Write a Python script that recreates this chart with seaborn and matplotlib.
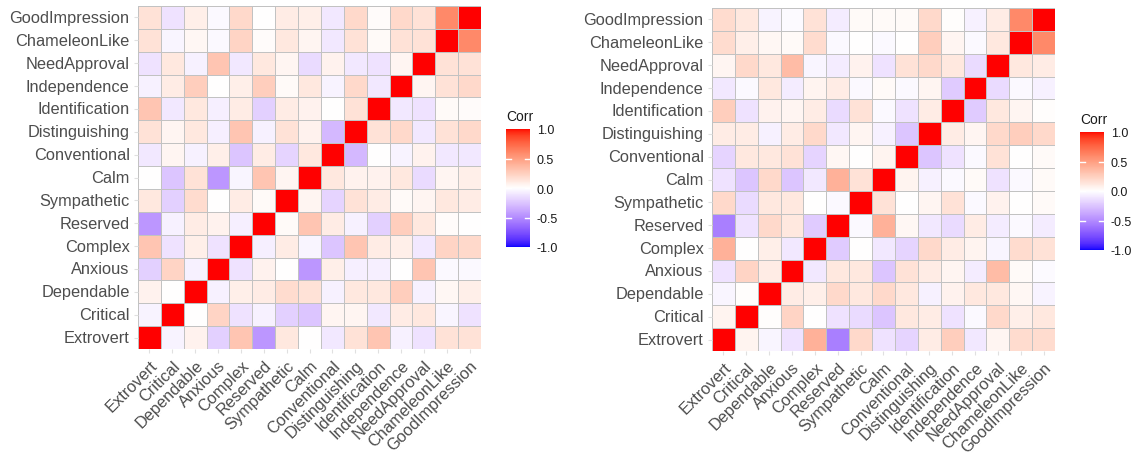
import numpy as np
import pandas as pd
import matplotlib
matplotlib.use("Agg")
import matplotlib.pyplot as plt
import seaborn as sns
from matplotlib.colors import ListedColormap

variables = ["Extrovert", "Critical", "Dependable", "Anxious", "Complex", "Reserved",
             "Sympathetic", "Calm", "Conventional", "Distinguishing", "Identification",
             "Independence", "NeedApproval", "ChameleonLike", "GoodImpression"]

# lower triangles (row i: correlations with variables 0..i-1)
left_lower = [
    [],
    [-0.05],
    [0.07, 0.0],
    [-0.2, 0.22, -0.06],
    [0.3, -0.12, 0.08, -0.12],
    [-0.45, -0.06, 0.1, 0.07, -0.07],
    [0.12, -0.2, 0.18, 0.0, 0.1, 0.03],
    [0.0, -0.25, 0.15, -0.45, -0.04, 0.3, 0.05],
    [-0.1, 0.05, -0.06, 0.08, -0.25, 0.1, -0.18, 0.12],
    [0.15, 0.05, 0.12, -0.07, 0.3, -0.06, 0.15, 0.07, -0.3],
    [0.3, -0.1, 0.12, -0.07, 0.1, -0.2, 0.1, 0.07, 0.0, 0.15],
    [-0.06, 0.1, 0.25, 0.0, 0.08, 0.25, 0.03, 0.12, -0.05, 0.2, -0.1],
    [-0.12, 0.12, -0.06, 0.3, -0.1, 0.12, 0.05, -0.15, 0.07, -0.1, -0.12, 0.05],
    [0.15, -0.04, 0.04, -0.03, 0.22, 0.02, 0.12, 0.05, -0.1, 0.15, 0.03, 0.15, 0.15],
    [0.15, -0.12, 0.08, -0.03, 0.2, 0.0, 0.1, 0.08, -0.1, 0.2, 0.02, 0.2, 0.15, 0.6],
]

right_lower = [
    [],
    [0.06],
    [-0.04, 0.01],
    [-0.12, 0.22, 0.1],
    [0.4, 0.0, 0.08, -0.1],
    [-0.55, -0.12, 0.2, 0.12, -0.22],
    [0.2, -0.15, 0.12, 0.12, 0.0, -0.03],
    [-0.12, -0.25, 0.2, -0.25, -0.1, 0.4, 0.15],
    [-0.18, 0.12, 0.12, 0.15, -0.18, 0.04, 0.0, 0.06],
    [0.1, 0.1, -0.06, 0.1, 0.2, -0.1, 0.05, -0.06, -0.25],
    [0.25, -0.12, 0.07, 0.05, 0.1, -0.15, 0.15, -0.03, -0.12, 0.1],
    [-0.1, -0.03, 0.12, -0.08, 0.06, 0.1, -0.03, 0.03, -0.03, 0.05, -0.22],
    [0.05, 0.2, 0.12, 0.35, -0.04, -0.08, 0.07, -0.12, 0.15, 0.2, 0.12, -0.15],
    [0.18, 0.08, 0.04, 0.03, 0.18, -0.03, 0.0, -0.03, 0.0, 0.25, 0.05, -0.03, 0.12],
    [0.18, 0.12, -0.05, -0.02, 0.15, -0.08, 0.03, 0.03, 0.03, 0.2, 0.01, -0.06, 0.1, 0.6],
]

legend_ticks = [-1.0, -0.5, 0.0, 0.5, 1.0]


def build_matrix(lower):
    n = len(variables)
    m = np.eye(n)
    for i, row in enumerate(lower):
        for j, v in enumerate(row):
            m[i, j] = v
            m[j, i] = v
    df = pd.DataFrame(m, index=variables, columns=variables)
    return df.iloc[::-1]  # GoodImpression at top


# ggplot-like gradient2 (blue-white-red) interpolated in Lab space
def lab_to_rgb(L, a, b):
    fy = (L + 16) / 116
    fx = fy + a / 500
    fz = fy - b / 200
    def finv(t):
        return np.where(t > 6 / 29, t ** 3, 3 * (6 / 29) ** 2 * (t - 4 / 29))
    X = 0.95047 * finv(fx)
    Y = 1.0 * finv(fy)
    Z = 1.08883 * finv(fz)
    M = np.array([[3.2406, -1.5372, -0.4986],
                  [-0.9689, 1.8758, 0.0415],
                  [0.0557, -0.2040, 1.0570]])
    rgb = M @ np.vstack([X, Y, Z])
    rgb = np.where(rgb <= 0.0031308, 12.92 * rgb, 1.055 * np.clip(rgb, 0, None) ** (1 / 2.4) - 0.055)
    return np.clip(rgb.T, 0, 1)


blue_lab = np.array([32.30, 79.19, -107.86])
white_lab = np.array([100.0, 0.0, 0.0])
red_lab = np.array([53.24, 80.09, 67.20])
t = np.linspace(0, 1, 256)
labs = []
for tt in t:
    if tt < 0.5:
        s = tt / 0.5
        labs.append(blue_lab * (1 - s) + white_lab * s)
    else:
        s = (tt - 0.5) / 0.5
        labs.append(white_lab * (1 - s) + red_lab * s)
labs = np.array(labs)
cmap = ListedColormap(lab_to_rgb(labs[:, 0], labs[:, 1], labs[:, 2]))

plt.rcParams["font.family"] = ["Liberation Sans", "DejaVu Sans"]

W, H = 1135, 456
fig = plt.figure(figsize=(W / 100, H / 100), dpi=100)


def fr(x0, y0, x1, y1):
    return [x0 / W, 1 - y1 / H, (x1 - x0) / W, (y1 - y0) / H]


panels = [
    (left_lower, fr(138, 7, 481, 350), fr(506, 130, 530, 248), (506, 117)),
    (right_lower, fr(712, 9, 1055, 352), fr(1080, 133, 1104, 251), (1080, 120)),
]

for lower, axpos, cpos, title_xy in panels:
    ax = fig.add_axes(axpos)
    cax = fig.add_axes(cpos)
    df = build_matrix(lower)
    sns.heatmap(df, ax=ax, cbar_ax=cax, cmap=cmap, vmin=-1, vmax=1,
                linewidths=0.6, linecolor="#C2C2C2", square=False)
    ax.set_xlabel("")
    ax.set_ylabel("")
    ax.set_xticklabels(df.columns, rotation=45, ha="right", rotation_mode="anchor",
                       fontsize=11.8, color="#4D4D4D")
    ax.set_yticklabels(df.index, rotation=0, fontsize=11.8, color="#4D4D4D")
    ax.tick_params(axis="both", length=3, color="#E0E0E0", width=0.8, pad=3)
    for sp in ax.spines.values():
        sp.set_visible(False)

    cbar = ax.collections[0].colorbar
    cbar.outline.set_visible(False)
    cbar.set_ticks(legend_ticks)
    cbar.set_ticklabels([f"{v:.1f}" for v in legend_ticks])
    cax.tick_params(length=0, labelsize=9, labelcolor="#1A1A1A", pad=5)
    for v in legend_ticks[1:-1]:
        cax.axhline(v, xmin=0, xmax=0.2, color="white", lw=1)
        cax.axhline(v, xmin=0.8, xmax=1, color="white", lw=1)
    fig.text(title_xy[0] / W, 1 - title_xy[1] / H, "Corr", fontsize=10,
             color="#1A1A1A", ha="left", va="center")

fig.savefig("out.png", dpi=100)
